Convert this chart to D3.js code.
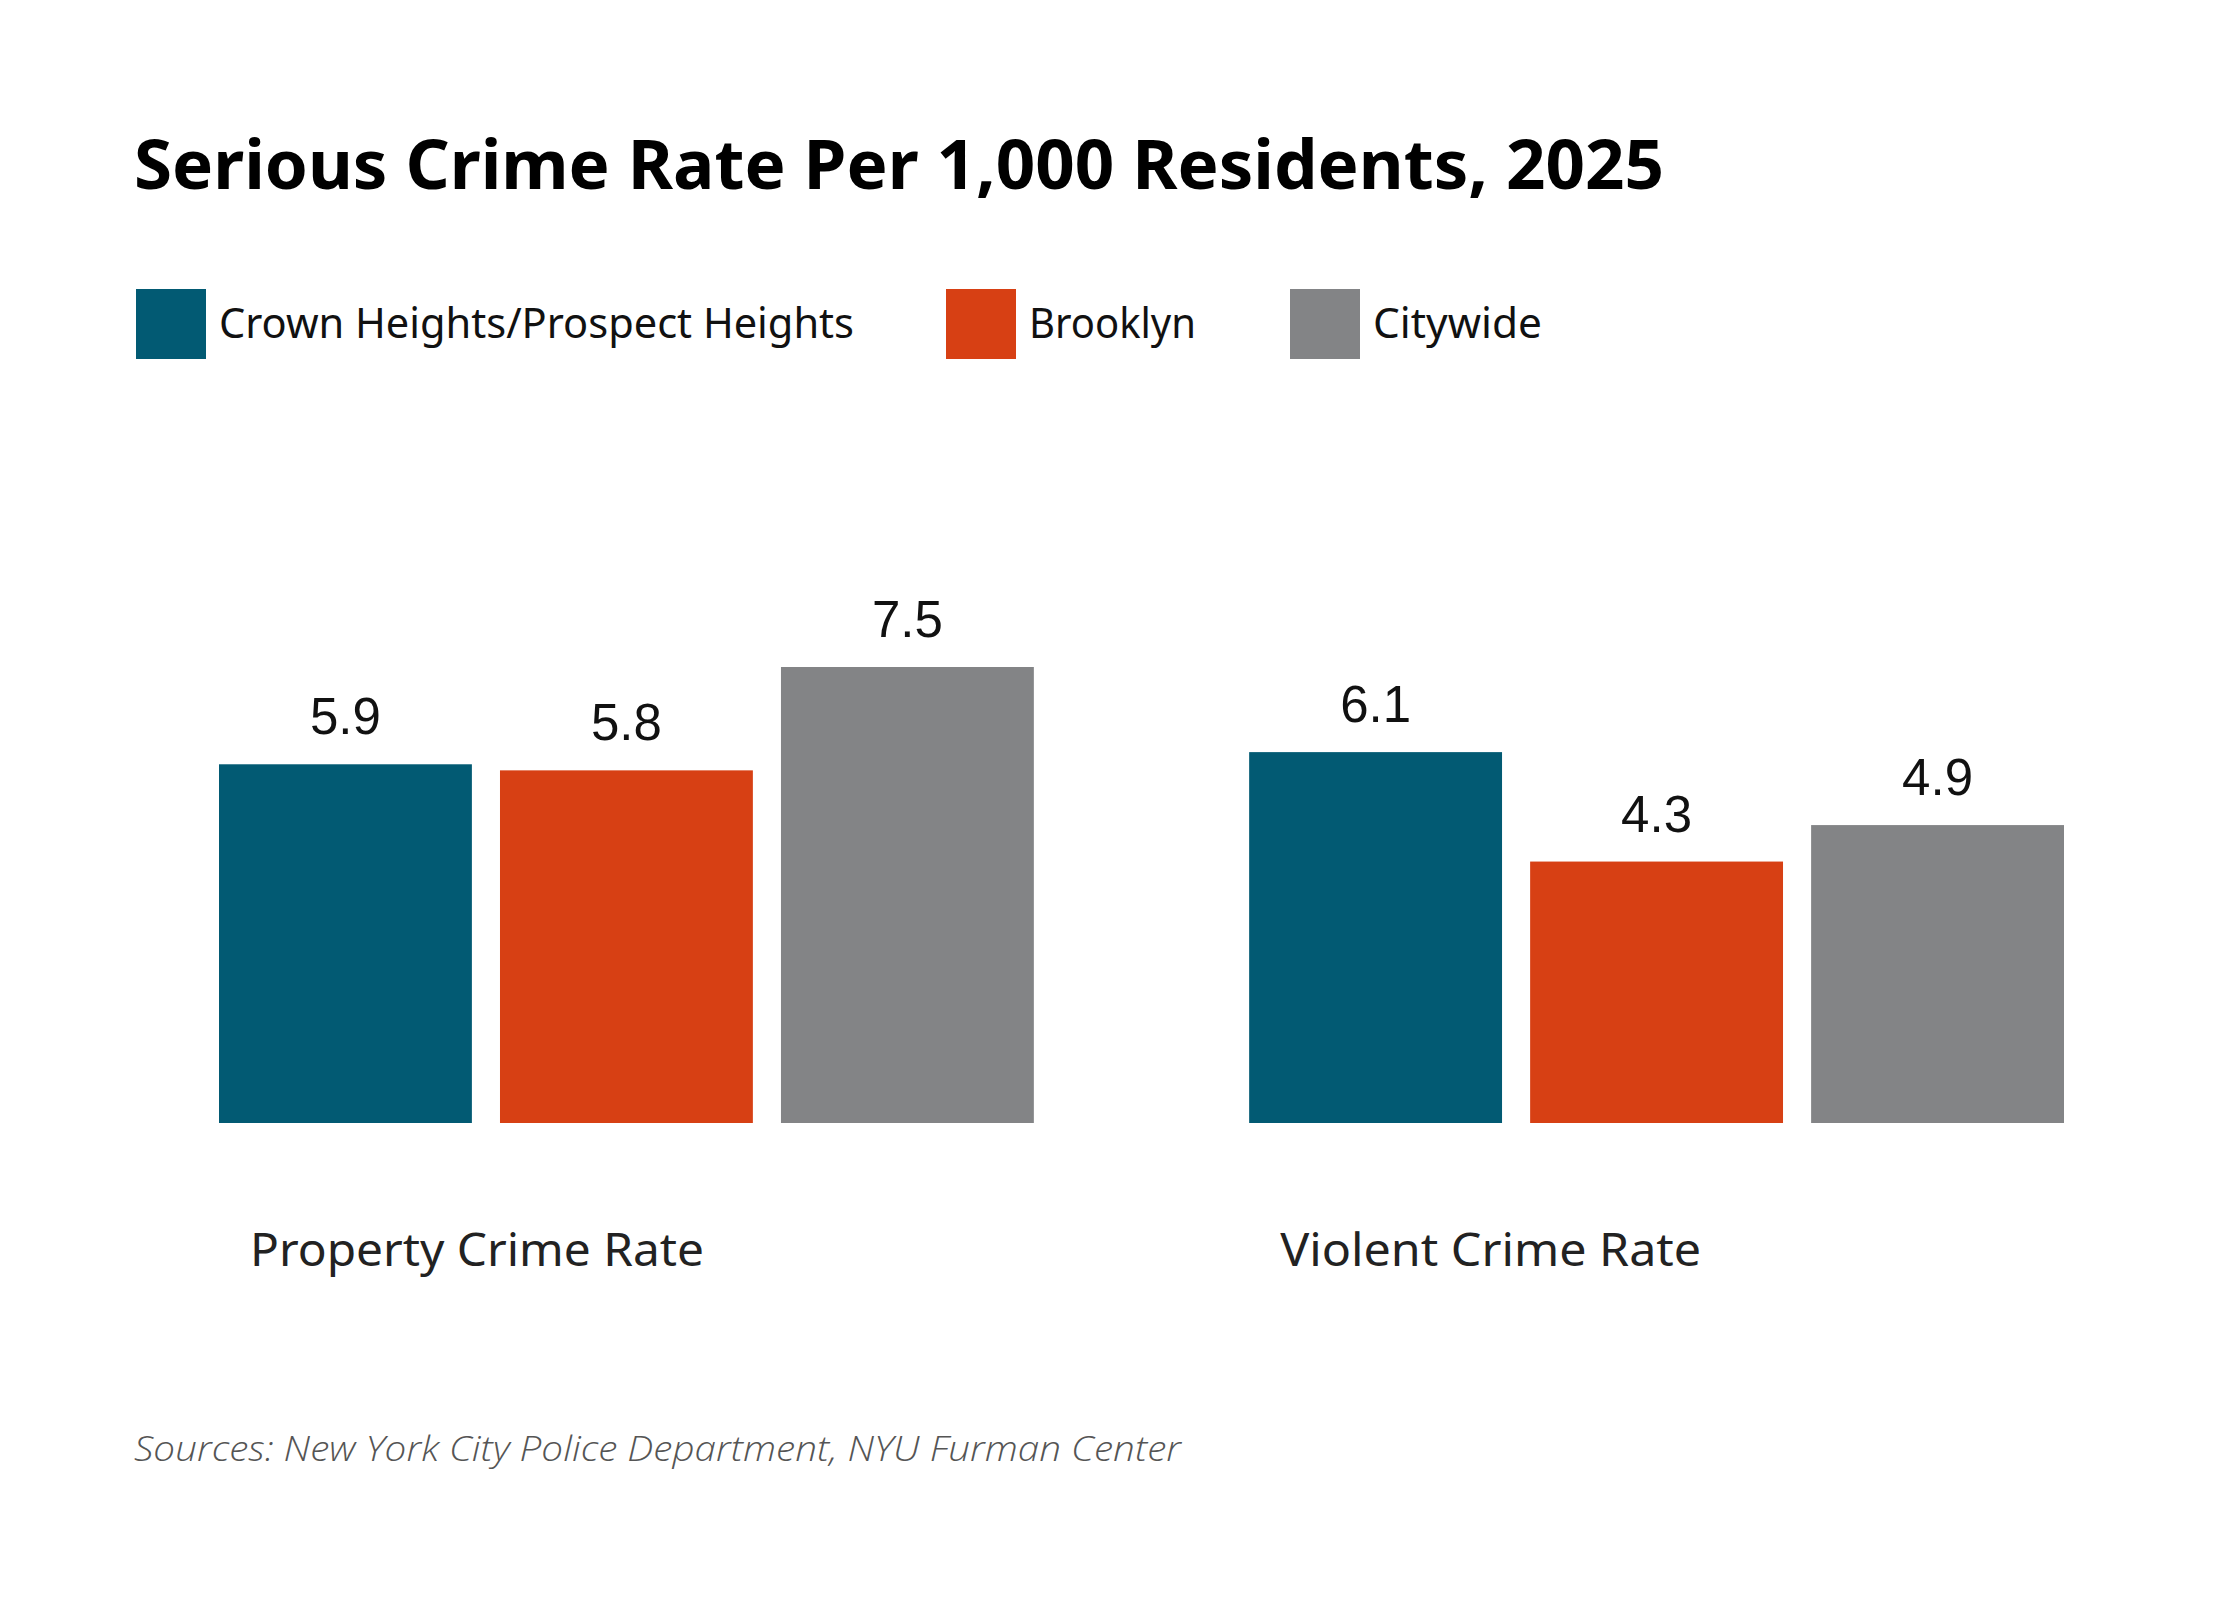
<!DOCTYPE html>
<html>
<head>
<meta charset="utf-8">
<script src="https://cdn.jsdelivr.net/npm/d3@7"></script>
<style>
  body { margin: 0; background: #fff; }
  svg { display: block; }
</style>
</head>
<body>
<svg id="chart" width="2240" height="1600"></svg>
<script>
// Данные
const categories = ["Property Crime Rate", "Violent Crime Rate"];
const series = ["Crown Heights/Prospect Heights", "Brooklyn", "Citywide"];
const crownValues = [5.9, 6.1];
const brooklynValues = [5.8, 4.3];
const citywideValues = [7.5, 4.9];
const colors = ["#025a73", "#d74014", "#838486"];

const title = "Serious Crime Rate Per 1,000 Residents, 2025";
const source = "Sources: New York City Police Department, NYU Furman Center";

const svg = d3.select("#chart");

svg.append("rect").attr("width", 2240).attr("height", 1600).attr("fill", "#fff");

// Заголовок
svg.append("text")
    .attr("x", 134)
    .attr("y", 189)
    .attr("font-family", "'Noto Sans', sans-serif")
    .attr("font-weight", 700)
    .attr("font-size", 69)
    .attr("textLength", 1530)
    .attr("lengthAdjust", "spacingAndGlyphs")
    .attr("fill", "#000")
    .text(title);

// Легенда
const legendX = [136, 946, 1290];
const legendTextW = [635, 167, 169];
const legend = svg.selectAll(".legend")
    .data(series)
    .enter()
    .append("g")
    .attr("class", "legend")
    .attr("transform", (d, i) => `translate(${legendX[i]}, 289)`);

legend.append("rect")
    .attr("width", 70)
    .attr("height", 70)
    .attr("fill", (d, i) => colors[i]);

legend.append("text")
    .attr("x", 83)
    .attr("y", 49)
    .attr("font-family", "'Noto Sans', sans-serif")
    .attr("font-size", 41)
    .attr("textLength", (d, i) => legendTextW[i])
    .attr("lengthAdjust", "spacingAndGlyphs")
    .attr("fill", "#111")
    .text(d => d);

// Шкалы
const x0 = d3.scaleBand()
    .domain(categories)
    .range([219, 2064])
    .paddingInner(0.209)
    .paddingOuter(0);

const x1 = d3.scaleBand()
    .domain(series)
    .range([0, x0.bandwidth()])
    .paddingInner(0.1)
    .paddingOuter(0);

const y = d3.scaleLinear()
    .domain([0, 7.5])
    .range([1123, 667]);

const color = d3.scaleOrdinal().domain(series).range(colors);

const table = categories.map((c, i) => ({
    category: c,
    values: [
        { key: series[0], value: crownValues[i] },
        { key: series[1], value: brooklynValues[i] },
        { key: series[2], value: citywideValues[i] }
    ]
}));

const groups = svg.selectAll(".group")
    .data(table)
    .enter()
    .append("g")
    .attr("class", "group")
    .attr("transform", d => `translate(${x0(d.category)}, 0)`);

groups.selectAll("rect")
    .data(d => d.values)
    .enter()
    .append("rect")
    .attr("x", d => x1(d.key))
    .attr("y", d => y(d.value))
    .attr("width", x1.bandwidth())
    .attr("height", d => y(0) - y(d.value))
    .attr("fill", d => color(d.key));

// Подписи значений
groups.selectAll(".value")
    .data(d => d.values)
    .enter()
    .append("text")
    .attr("class", "value")
    .attr("x", d => x1(d.key) + x1.bandwidth() / 2)
    .attr("y", d => y(d.value) - 30)
    .attr("text-anchor", "middle")
    .attr("font-family", "'Liberation Sans', Arial, sans-serif")
    .attr("font-size", 51)
    .attr("fill", "#111")
    .text(d => d3.format(".1f")(d.value));

// Подписи категорий
groups.append("text")
    .attr("x", 31)
    .attr("y", 1266)
    .attr("font-family", "'Noto Sans', sans-serif")
    .attr("font-size", 45)
    .attr("textLength", (d, i) => [454, 421][i])
    .attr("lengthAdjust", "spacingAndGlyphs")
    .attr("fill", "#222")
    .text(d => d.category);

// Источник
svg.append("text")
    .attr("x", 134)
    .attr("y", 1461)
    .attr("font-family", "'Open Sans', sans-serif")
    .attr("font-style", "italic")
    .attr("font-weight", 300)
    .attr("font-size", 35)
    .attr("textLength", 1047)
    .attr("lengthAdjust", "spacingAndGlyphs")
    .attr("fill", "#555")
    .text(source);
</script>
</body>
</html>
